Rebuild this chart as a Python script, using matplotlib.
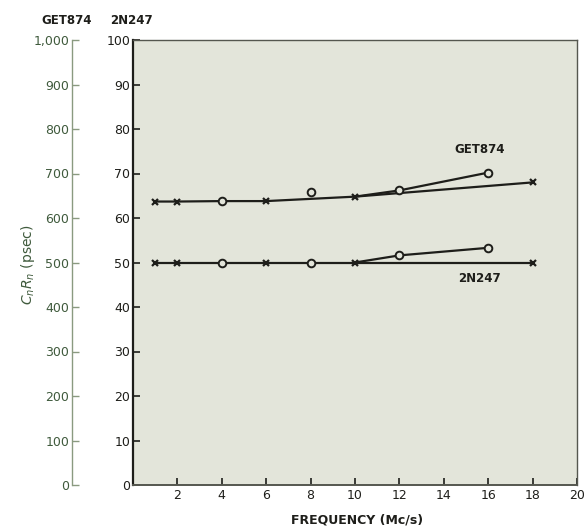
import matplotlib.pyplot as plt
import numpy as np

# data (values on the 2N247 scale, 0-100)
get_line_x = [1, 2, 4, 6, 10, 18]
get_line_y = [63.7, 63.7, 63.8, 63.8, 64.8, 68.0]
get_branch_x = [10, 12, 16]
get_branch_y = [64.8, 66.2, 70.2]
get_cross_x = [1, 2, 6, 10, 18]
get_cross_y = [63.7, 63.7, 63.8, 64.8, 68.0]
get_circ_x = [4, 8, 12, 16]
get_circ_y = [63.8, 65.8, 66.2, 70.2]

n2_line_x = [1, 2, 4, 6, 8, 10, 18]
n2_line_y = [50, 50, 50, 50, 50, 50, 50]
n2_branch_x = [10, 12, 16]
n2_branch_y = [50, 51.6, 53.3]
n2_cross_x = [1, 2, 6, 10, 18]
n2_cross_y = [50, 50, 50, 50, 50]
n2_circ_x = [4, 8, 12, 16]
n2_circ_y = [50, 50, 51.6, 53.3]

xticks = [2, 4, 6, 8, 10, 12, 14, 16, 18, 20]
yticks_main = list(range(0, 101, 10))
yticks_left = list(range(0, 1001, 100))
left_labels = ['0', '100', '200', '300', '400', '500', '600', '700', '800', '900', '1,000']

ink = '#1e1e1a'
green = '#3f5a3c'
bg = '#e3e5da'

plt.rcParams['font.family'] = 'DejaVu Sans'
fig = plt.figure(figsize=(5.87, 5.32), dpi=100)

W, H = 587, 532
ax = fig.add_axes([133 / W, 47 / H, 444 / W, 445 / H])
ax.set_facecolor(bg)

lw = 1.6
ax.plot(get_line_x, get_line_y, color=ink, lw=lw, zorder=2)
ax.plot(get_branch_x, get_branch_y, color=ink, lw=lw, zorder=2)
ax.plot(n2_line_x, n2_line_y, color=ink, lw=lw, zorder=2)
ax.plot(n2_branch_x, n2_branch_y, color=ink, lw=lw, zorder=2)

for cx, cy in [(get_cross_x, get_cross_y), (n2_cross_x, n2_cross_y)]:
    ax.plot(cx, cy, linestyle='none', marker='x', ms=5, mew=1.6, color=ink, zorder=3)
for ox, oy in [(get_circ_x, get_circ_y), (n2_circ_x, n2_circ_y)]:
    ax.plot(ox, oy, linestyle='none', marker='o', ms=5.5, mew=1.4,
            mfc=bg, mec=ink, zorder=3)

ax.text(15.6, 74.5, 'GET874', fontsize=8.5, fontweight='bold', color=ink, ha='center')
ax.text(15.6, 45.6, '2N247', fontsize=8.5, fontweight='bold', color=ink, ha='center')

ax.set_xlim(0, 20)
ax.set_ylim(0, 100)
ax.set_xticks(xticks)
ax.set_yticks(yticks_main)
ax.tick_params(direction='in', length=5, width=1.2, colors=ink, labelsize=9, pad=3)
ax.tick_params(axis='y', pad=2)
for s in ax.spines.values():
    s.set_color('#55574f')
    s.set_linewidth(1.0)
ax.spines['left'].set_color(ink)
ax.spines['left'].set_linewidth(1.6)
ax.spines['bottom'].set_linewidth(1.4)

fig.text(357 / W, 1 - 520 / H, 'FREQUENCY (Mc/s)', fontsize=9, fontweight='bold',
         color=ink, ha='center', va='center')

# left scale for GET874
ax2 = fig.add_axes([72 / W, 47 / H, 0.001, 445 / H])
ax2.set_ylim(0, 1000)
ax2.set_yticks(yticks_left)
ax2.set_yticklabels(left_labels)
ax2.set_xticks([])
for k in ['top', 'right', 'bottom']:
    ax2.spines[k].set_visible(False)
ax2.spines['left'].set_color('#8a9a80')
ax2.spines['left'].set_linewidth(1.0)
ax2.patch.set_visible(False)
ax2.tick_params(axis='y', direction='in', length=5, width=1.0, colors='#8a9a80',
                labelcolor=green, labelsize=9, pad=2)

fig.text(28 / W, 1 - 265 / H, r'$C_n R_n$ (psec)', fontsize=10, color=green,
         rotation=90, ha='center', va='center')

fig.text(67 / W, 1 - 20 / H, 'GET874', fontsize=8.5, fontweight='bold', color=ink,
         ha='center', va='center')
fig.text(131 / W, 1 - 20 / H, '2N247', fontsize=8.5, fontweight='bold', color=ink,
         ha='center', va='center')

fig.savefig('out.png', dpi=100, facecolor='white')
